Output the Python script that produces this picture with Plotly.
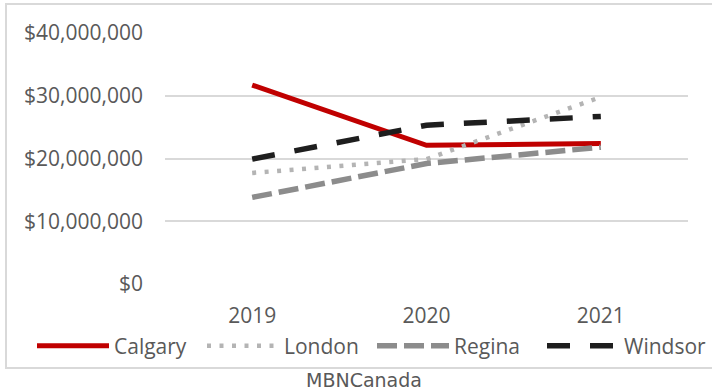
import plotly.graph_objects as go

years = ["2019", "2020", "2021"]
calgary = [31.7e6, 22.1e6, 22.4e6]
london = [17.7e6, 19.9e6, 29.8e6]
regina = [13.8e6, 19.2e6, 21.8e6]
windsor = [19.9e6, 25.3e6, 26.7e6]
series_names = ["Calgary", "London", "Regina", "Windsor"]
y_ticks = [0, 10e6, 20e6, 30e6, 40e6]
y_ticklabels = ["$0", "$10,000,000", "$20,000,000", "$30,000,000", "$40,000,000"]

styles = [
    dict(color="#C00000", width=5, dash="solid"),
    dict(color="#B4B4B4", width=4.5, dash="4px,8.5px"),
    dict(color="#8C8C8C", width=5.5, dash="20px,7px"),
    dict(color="#1E1E1E", width=5.5, dash="23px,20px"),
]

fig = go.Figure()
for name, vals, st in zip(series_names, [calgary, london, regina, windsor], styles):
    fig.add_trace(go.Scatter(x=years, y=vals, name=name, mode="lines", line=st))

W, H = 712, 391
L, R, T, B = 165, 24, 33, 107
pw = W - L - R
ph = H - T - B

def px_x(px):
    return (px - L) / pw

def px_y(py):
    return (H - B - py) / ph

fig.update_layout(
    width=W, height=H,
    margin=dict(l=L, r=R, t=T, b=B),
    paper_bgcolor="white", plot_bgcolor="white",
    font=dict(family="Open Sans", size=21, color="#595959"),
    showlegend=True,
    legend=dict(orientation="h", x=px_x(50), xanchor="left", y=px_y(346), yanchor="middle",
                itemwidth=72, entrywidth=83, font=dict(size=21, color="#595959"),
                bgcolor="rgba(0,0,0,0)", tracegroupgap=0),
    xaxis=dict(type="category", range=[-0.5, 2.5], showgrid=False, showline=False,
               ticks="", ticklabelstandoff=17, tickfont=dict(size=21, color="#595959")),
    yaxis=dict(range=[0, 40e6], tickvals=y_ticks, ticktext=y_ticklabels,
               showgrid=True, gridcolor="#D9D9D9", gridwidth=1.5,
               zeroline=False, showline=False, ticks="", ticklabelstandoff=21,
               tickfont=dict(size=21, color="#595959")),
    shapes=[dict(type="rect", xref="paper", yref="paper",
                 x0=px_x(6), x1=px_x(740), y0=px_y(368), y1=px_y(4),
                 line=dict(color="#D9D9D9", width=2), fillcolor="rgba(0,0,0,0)", layer="below")],
    annotations=[dict(text="MBNCanada", xref="paper", yref="paper", x=px_x(364), y=px_y(379.5),
                      xanchor="center", yanchor="middle", showarrow=False,
                      font=dict(family="DejaVu Sans", size=19, color="#595959"))],
)

fig.write_html("out.html")
